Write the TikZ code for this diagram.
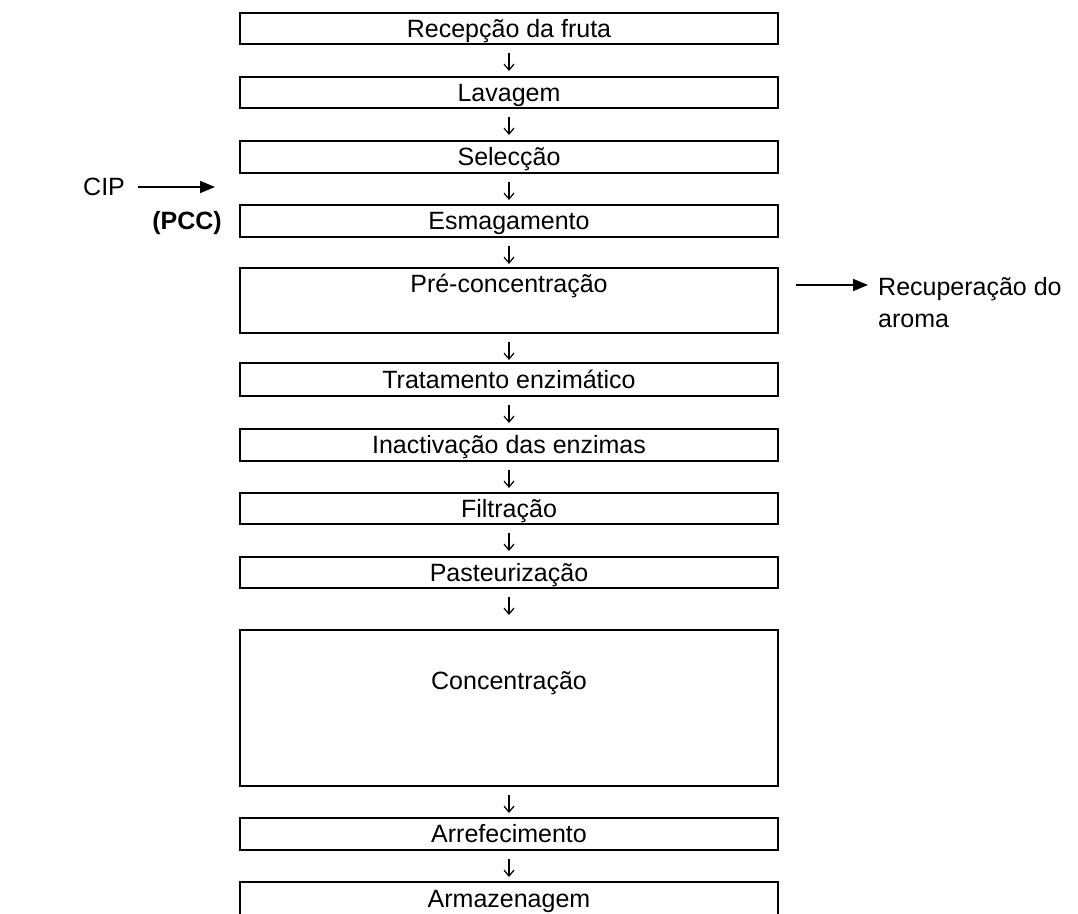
\documentclass[tikz,border=0pt]{standalone}
\usepackage{fontspec}
\setmainfont{Liberation Sans}
\usetikzlibrary{arrows.meta,calc}
\begin{document}
\begin{tikzpicture}[x=1pt,y=-1pt,
  box/.style={draw, line width=2.4pt, minimum width=538pt, inner sep=0pt, outer sep=0pt,
    anchor=north, font=\fontsize{25}{29}\selectfont, text height=18pt, text depth=1pt},
  lbl/.style={inner sep=0pt, font=\fontsize{25}{32}\selectfont},
  dn/.style={-{Straight Barb[length=6pt,width=10pt]}, line width=1.2pt, shorten <=9pt, shorten >=#1},
  side/.style={-{Triangle[length=15pt,width=12pt]}, line width=1.8pt}]
\useasboundingbox (0,0) rectangle (1078,913);
\clip (0,0) rectangle (1078,913);
% boxes
\node[box, minimum height=31pt] (b1) at (509,13) {Recepção da fruta};
\node[box, minimum height=31pt] (b2) at (509,77) {Lavagem};
\node[box, minimum height=32pt] (b3) at (509,141) {Selecção};
\node[box, minimum height=32pt] (b4) at (509,205) {Esmagamento};
\node[box, minimum height=65pt, text depth=35pt] (b5) at (509,268) {Pré-concentração};
\node[box, minimum height=33pt] (b6) at (509,363) {Tratamento enzimático};
\node[box, minimum height=32pt] (b7) at (509,429) {Inactivação das enzimas};
\node[box, minimum height=31pt] (b8) at (509,493) {Filtração};
\node[box, minimum height=31pt] (b9) at (509,557) {Pasteurização};
\node[box, minimum height=156pt, text depth=56pt] (b10) at (509,630) {Concentração};
\node[box, minimum height=32pt] (b11) at (509,818) {Arrefecimento};
\node[box, minimum height=60pt, text depth=28pt] (b12) at (509,882) {Armazenagem};
% down arrows
\draw[dn=6pt] (b1) -- (b2);
\draw[dn=6pt] (b2) -- (b3);
\draw[dn=5pt] (b3) -- (b4);
\draw[dn=4pt] (b4) -- (b5);
\draw[dn=3pt] (b5) -- (b6);
\draw[dn=6pt] (b6) -- (b7);
\draw[dn=5pt] (b7) -- (b8);
\draw[dn=6pt] (b8) -- (b9);
\draw[dn=15pt] (b9) -- (b10);
\draw[dn=5pt] (b10) -- (b11);
\draw[dn=5pt] (b11) -- (b12);
% left side
\node[lbl, anchor=base west] (cip) at (83,195) {CIP};
\coordinate (cipS) at (138,187);
\coordinate (cipE) at (215,187);
\draw[side] (cipS) -- (cipE);
\node[lbl, anchor=base east, font=\fontsize{25}{29}\selectfont\bfseries] (pcc) at (222,229) {(PCC)};
% right side
\coordinate (arS) at (796,285);
\coordinate (arE) at (868,285);
\draw[side] (arS) -- (arE);
\node[lbl, anchor=base west, align=left] (arom) at (878,327) {Recuperação do\\aroma};
\end{tikzpicture}
\end{document}
